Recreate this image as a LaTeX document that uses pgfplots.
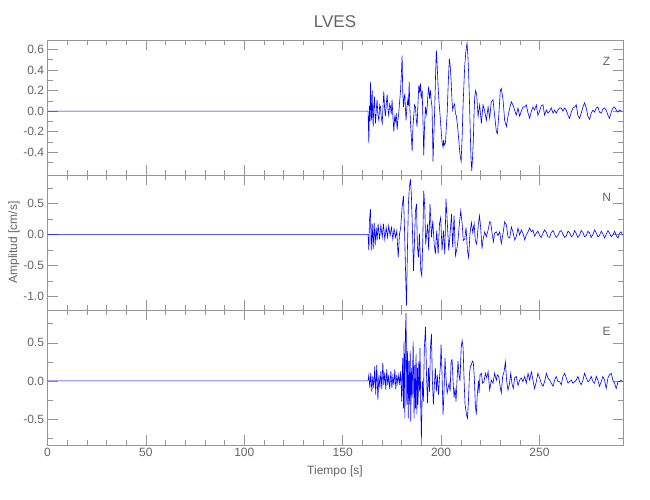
\documentclass[border=0pt]{standalone}
\usepackage{fontspec}
\setmainfont{Liberation Sans}
\usepackage{pgfplots}
\pgfplotsset{compat=1.18}
\definecolor{axgray}{RGB}{150,150,150}
\definecolor{txtgray}{RGB}{100,100,100}
\definecolor{trace}{RGB}{0,0,255}
\pgfplotsset{seis/.style={
  scale only axis, width=575.2pt, height=135pt, anchor=south west,
  xmin=0, xmax=292.3,
  axis line style={axgray}, tick style={axgray, line width=0.5pt},
  major tick length=10pt, minor tick length=5pt,
  xtick={0,50,...,250}, minor x tick num=4,
  tick label style={font=\fontsize{12}{14}\selectfont, text=txtgray},
  /pgf/number format/assume math mode=true,
  yticklabel style={/pgf/number format/.cd, fixed, fixed zerofill, precision=1},
  no markers,
}}
\begin{document}
\begin{tikzpicture}
\useasboundingbox (0,0) rectangle (650pt,500pt);
% Z
\begin{axis}[seis, at={(47.5pt,325pt)}, ymin=-0.62, ymax=0.69,
  ytick={-0.4,-0.2,0,0.2,0.4,0.6}, minor ytick={-0.5,-0.3,-0.1,0.1,0.3,0.5},
  xticklabels={}]
\addplot[trace, line width=0.6pt] coordinates {(0,0) (162.9,0)
(163.3,-0.31) (163.6,0.05) (163.9,-0.10) (164.1,0.28) (164.4,0.02) (164.6,-0.09) (164.8,0.08) (165.0,0.20) (165.2,-0.02) (165.5,-0.15) (165.8,0.05) (166.2,0.14) (166.4,-0.03) (166.7,-0.12) (167.1,0.02) (167.5,0.11) (167.9,-0.04) (168.4,-0.09) (168.8,0.06) (169.2,0.04) (169.6,-0.06) (170.1,-0.12) (170.5,0.05) (170.9,0.19) (171.3,0.03) (171.7,-0.05) (172.2,0.08) (172.6,0.16) (173.0,0.02) (173.4,-0.04) (173.9,0.07) (174.3,0.04) (174.7,-0.03) (175.1,0.11) (175.5,-0.05) (176.0,-0.20) (176.4,-0.06) (176.8,-0.10) (177.2,-0.02) (177.7,-0.18) (178.1,-0.08) (178.5,-0.02) (178.9,0.08) (179.4,0.20) (179.8,0.35) (180.2,0.54) (180.5,0.20) (180.9,0.04) (181.2,0.12) (181.6,0.17) (181.9,0.02) (182.2,-0.09) (182.6,0.03) (183.1,0.11) (183.4,0.05) (183.8,0.28) (184.1,0.05) (184.4,-0.09) (184.9,-0.25) (185.3,-0.39) (185.7,-0.15) (186.1,-0.05) (186.5,0.06) (187.0,0.04) (187.4,-0.08) (187.8,-0.15) (188.2,0.05) (188.7,0.25) (189.1,0.18) (189.5,0.27) (189.9,0.12) (190.4,0.20) (190.8,-0.10) (191.2,-0.43) (191.6,-0.15) (192.1,0.04) (192.5,-0.03) (192.9,0.03) (193.3,0.15) (193.7,0.24) (194.2,0.12) (194.6,0.20) (195.0,0.10) (195.4,0.04) (195.7,-0.25) (195.9,-0.49) (196.4,-0.20) (196.8,0.04) (197.2,0.35) (197.6,0.59) (198.0,0.45) (198.5,0.24) (198.9,0.10) (199.3,0.01) (200.0,-0.18) (200.5,-0.30) (201.0,-0.35) (201.3,-0.28) (201.6,-0.33) (202.2,-0.31) (202.6,-0.18) (203.1,-0.02) (203.6,0.25) (204.2,0.51) (204.6,0.45) (205.1,0.30) (205.5,0.12) (205.9,0.01) (206.4,0.05) (206.9,0.07) (207.3,-0.02) (207.8,-0.05) (208.4,-0.15) (209.0,-0.28) (209.6,-0.42) (210.2,-0.49) (210.7,-0.25) (211.2,0.07) (212.0,0.43) (212.6,0.58) (213.2,0.66) (213.6,0.55) (214.0,0.37) (214.5,0.05) (214.9,-0.25) (215.2,-0.45) (215.6,-0.58) (216.0,-0.45) (216.4,-0.28) (216.8,0.0) (217.1,0.14) (217.6,0.20) (218.1,0.16) (218.8,-0.05) (219.6,0.06) (220.5,-0.12) (221.3,0.06) (222.2,0.0) (223.0,-0.09) (223.9,0.04) (224.7,-0.07) (225.5,0.09) (226.4,0.11) (227.2,-0.04) (228.1,-0.20) (228.6,-0.22) (229.3,-0.05) (230.1,0.20) (230.6,0.22) (231.5,0.11) (232.3,-0.09) (233.2,-0.15) (234.0,-0.05) (234.9,0.03) (235.7,0.09) (236.5,0.06) (237.4,0.01) (238.2,-0.04) (239.1,0.03) (239.9,-0.05) (240.8,0.0) (241.6,0.04) (242.5,0.04) (243.3,0.06) (244.2,-0.02) (245.0,-0.07) (245.9,0.0) (246.7,0.04) (247.5,0.01) (248.4,0.06) (249.2,-0.04) (250.1,0.0) (250.9,0.05) (251.8,0.06) (252.6,-0.04) (253.5,0.01) (254.3,-0.02) (255.2,0.0) (256.0,0.03) (256.9,-0.02) (257.7,0.01) (258.5,-0.02) (259.4,0.01) (260.2,0.03) (261.1,0.03) (261.9,0.0) (262.8,0.03) (263.6,0.01) (264.5,-0.04) (265.3,-0.07) (266.2,-0.01) (267.0,0.03) (267.9,0.04) (268.7,0.06) (269.5,-0.04) (270.4,-0.07) (271.2,-0.02) (272.1,0.04) (272.9,0.08) (273.8,0.03) (274.6,-0.05) (275.5,-0.08) (276.3,-0.02) (277.2,0.01) (278.0,-0.01) (278.9,0.03) (279.7,0.04) (280.5,-0.01) (281.4,-0.02) (282.2,0.02) (283.1,0.03) (283.9,0.01) (284.8,-0.04) (285.6,-0.07) (286.5,-0.01) (287.3,0.03) (288.2,0.04) (289.0,0.01) (289.9,-0.01) (290.7,0.01) (291.5,0.0) (292.3,0.0)};
\node[text=txtgray, font=\fontsize{12}{14}\selectfont] at (rel axis cs:0.972,0.844) {Z};
\end{axis}
% N
\begin{axis}[seis, at={(47.5pt,190pt)}, ymin=-1.22, ymax=0.956,
  ytick={-1,-0.5,0,0.5}, minor ytick={-0.75,-0.25,0.25,0.75},
  xticklabels={}]
\addplot[trace, line width=0.6pt] coordinates {(0,0) (162.9,0)
(163.3,-0.26) (163.6,0.22) (164.1,0.41) (164.5,-0.26) (165.0,0.17) (165.5,-0.24) (166.0,0.19) (166.5,-0.18) (167.0,0.11) (167.5,-0.10) (168.0,0.17) (168.7,-0.08) (169.4,0.14) (170.1,-0.05) (170.7,0.17) (171.4,-0.08) (172.1,0.11) (172.8,-0.05) (173.4,0.14) (174.1,-0.02) (174.8,0.11) (175.5,-0.08) (176.1,0.09) (176.8,-0.05) (177.5,0.06) (178.2,-0.37) (178.9,0.01) (179.5,0.11) (180.2,0.44) (180.9,0.62) (181.4,0.11) (181.9,-0.53) (182.4,-1.15) (182.9,-0.26) (183.4,0.49) (183.9,0.76) (184.4,0.89) (184.9,0.65) (185.5,0.01) (186.0,-0.59) (186.5,-0.10) (187.0,0.38) (187.5,0.49) (188.0,-0.21) (188.5,-0.37) (189.0,0.01) (189.7,-0.59) (190.2,-0.67) (190.7,-0.10) (191.2,0.70) (191.7,0.44) (192.2,-0.16) (192.7,0.01) (193.2,0.17) (193.7,-0.26) (194.4,0.49) (195.1,-0.05) (195.8,0.22) (196.5,-0.16) (197.1,-0.32) (197.8,0.06) (198.5,-0.32) (199.2,0.17) (199.8,0.27) (200.5,-0.26) (201.2,0.06) (201.9,-0.32) (202.5,0.57) (203.2,0.17) (203.9,-0.26) (204.6,0.01) (205.3,0.33) (205.9,-0.21) (206.6,0.30) (207.3,-0.34) (208.0,-0.24) (208.6,-0.10) (209.3,0.17) (210.0,0.38) (210.7,0.17) (211.3,-0.10) (212.0,-0.08) (212.7,0.11) (213.4,-0.26) (214.0,-0.37) (214.7,0.01) (215.4,0.19) (216.1,0.03) (216.8,0.17) (217.4,-0.10) (218.1,-0.16) (218.8,0.11) (219.5,0.30) (220.1,0.12) (220.8,-0.23) (221.3,-0.09) (222.2,0.04) (223.0,-0.04) (223.9,0.07) (224.7,0.20) (225.2,0.20) (225.9,0.02) (226.6,-0.12) (227.2,0.02) (228.1,0.04) (228.9,-0.02) (229.8,0.04) (230.6,-0.15) (231.5,0.02) (232.3,0.20) (233.2,0.15) (234.0,-0.04) (234.9,-0.06) (235.7,0.12) (236.5,0.04) (237.4,-0.09) (238.2,-0.04) (239.1,0.10) (239.9,-0.01) (240.8,0.07) (241.6,0.02) (242.5,-0.09) (243.3,-0.01) (244.2,0.04) (245.0,0.10) (245.9,0.04) (246.7,0.07) (247.5,-0.03) (248.4,0.02) (249.2,0.05) (250.1,-0.02) (250.9,-0.05) (251.8,0.02) (252.6,0.07) (253.5,0.03) (254.3,-0.04) (255.2,-0.05) (256.0,0.03) (256.9,0.06) (257.7,0.0) (258.5,-0.05) (259.4,-0.02) (260.2,0.04) (261.1,0.06) (262.0,0.0) (262.8,-0.05) (263.6,-0.03) (264.5,0.05) (265.3,0.03) (266.2,-0.04) (267.0,-0.02) (267.9,0.06) (268.7,0.01) (269.5,-0.05) (270.4,-0.01) (271.2,0.06) (272.1,0.03) (272.9,-0.04) (273.8,-0.02) (274.6,0.05) (275.5,0.02) (276.3,-0.05) (277.2,0.0) (278.0,0.07) (278.9,0.02) (279.7,-0.04) (280.5,-0.02) (281.4,0.05) (282.2,0.01) (283.1,-0.06) (283.9,0.0) (284.8,0.06) (285.6,0.02) (286.5,-0.04) (287.3,-0.01) (288.2,0.05) (289.0,-0.02) (289.9,-0.06) (290.7,0.02) (291.5,0.04) (292.3,-0.02)};
\node[text=txtgray, font=\fontsize{12}{14}\selectfont] at (rel axis cs:0.972,0.837) {N};
\end{axis}
% E
\begin{axis}[seis, at={(47.5pt,55pt)}, ymin=-0.84, ymax=0.93,
  ytick={-0.5,0,0.5}, minor ytick={-0.75,-0.25,0.25,0.75},
  xticklabel style={/pgf/number format/.cd, fixed, precision=0}]
\addplot[trace, line width=0.6pt] coordinates {(0,0) (162.9,0)
(163.3,0.08) (163.8,-0.09) (164.3,0.11) (164.8,-0.14) (165.3,0.06) (165.8,-0.09) (166.3,0.19) (166.8,-0.18) (167.3,0.21) (167.9,-0.25) (168.4,0.08) (168.9,-0.09) (169.4,0.13) (169.9,-0.11) (170.4,0.24) (170.9,-0.05) (171.4,0.11) (171.9,-0.11) (172.4,0.15) (172.9,-0.05) (173.4,0.08) (173.9,-0.11) (174.5,0.13) (175.0,-0.09) (175.5,0.06) (176.0,-0.05) (176.5,0.15) (177.0,-0.11) (177.5,0.08) (178.0,-0.03) (178.5,0.08) (179.0,-0.05) (179.5,0.13) (180.0,-0.27) (180.5,0.30) (180.9,-0.36) (181.2,0.52) (181.6,-0.49) (181.9,0.65) (182.2,0.89) (182.6,-0.31) (182.9,0.39) (183.3,-0.49) (183.6,0.26) (183.9,-0.31) (184.3,0.39) (184.6,-0.53) (184.9,0.17) (185.3,-0.22) (185.8,0.52) (186.3,-0.49) (186.6,0.21) (187.0,-0.36) (187.3,0.35) (187.7,-0.44) (188.0,0.17) (188.3,-0.31) (188.7,0.26) (189.0,-0.14) (189.3,0.43) (189.7,-0.36) (190.0,-0.77) (190.5,0.0) (191.0,-0.27) (191.5,0.43) (192.1,0.71) (192.6,0.08) (193.1,-0.29) (193.6,0.17) (194.1,-0.14) (194.6,0.43) (195.1,0.62) (195.6,0.0) (196.1,-0.31) (196.6,-0.05) (197.1,0.17) (197.6,-0.14) (198.1,0.08) (198.7,-0.18) (199.2,0.04) (199.7,0.21) (200.0,0.48) (200.5,0.08) (201.0,-0.44) (201.5,-0.14) (202.0,0.30) (202.5,0.04) (203.1,-0.16) (203.6,-0.09) (204.1,-0.03) (204.6,-0.14) (205.1,0.26) (205.6,0.28) (206.1,0.0) (206.6,-0.22) (207.1,-0.09) (207.6,-0.27) (208.1,0.0) (208.6,0.26) (209.1,0.08) (209.6,0.0) (210.2,0.43) (210.7,0.53) (211.2,0.43) (211.7,0.0) (212.2,-0.31) (212.9,-0.44) (213.4,-0.49) (213.9,-0.27) (214.4,0.08) (214.9,0.19) (215.4,0.21) (215.9,0.26) (216.4,0.24) (216.9,0.04) (217.4,-0.31) (217.9,-0.44) (218.4,-0.18) (219.0,0.0) (219.3,-0.16) (219.8,0.08) (220.5,0.10) (221.1,-0.03) (221.8,-0.01) (222.5,0.10) (223.2,0.04) (223.9,0.12) (224.7,-0.12) (225.5,0.01) (226.4,-0.03) (227.2,0.10) (228.1,0.01) (228.6,0.08) (229.3,0.06) (230.0,-0.07) (230.6,-0.16) (231.3,0.06) (232.0,0.12) (232.7,0.25) (233.3,0.01) (234.0,-0.12) (234.7,-0.05) (235.4,0.10) (236.0,-0.03) (236.7,-0.10) (237.4,0.04) (238.2,0.06) (239.1,-0.06) (239.9,0.01) (240.8,0.04) (241.6,-0.01) (242.5,0.06) (243.3,-0.03) (244.2,0.10) (245.0,0.01) (245.9,0.12) (246.7,0.01) (247.5,-0.10) (248.4,-0.01) (249.2,0.10) (250.1,0.04) (250.9,-0.03) (251.8,-0.07) (252.6,-0.01) (253.5,0.10) (254.3,0.04) (255.2,0.01) (256.0,-0.03) (256.9,-0.07) (257.7,0.01) (258.5,0.06) (259.4,-0.01) (260.2,-0.01) (261.1,-0.05) (261.9,0.06) (262.8,0.10) (263.6,0.04) (264.5,-0.03) (265.3,-0.01) (266.2,0.01) (267.0,-0.03) (267.9,-0.01) (268.7,0.01) (269.5,0.06) (270.4,-0.01) (271.2,-0.05) (272.1,0.01) (272.9,0.10) (273.8,0.04) (274.6,-0.01) (275.5,0.01) (276.3,0.06) (277.2,-0.01) (278.0,-0.03) (278.9,0.06) (279.7,0.01) (280.5,-0.07) (281.4,-0.01) (282.2,0.06) (283.1,0.01) (283.9,-0.10) (284.8,0.04) (285.6,0.08) (286.5,0.10) (287.3,0.01) (288.2,-0.03) (289.0,-0.10) (289.9,-0.01) (290.7,-0.01) (291.5,0.01) (292.3,-0.01)};
\node[text=txtgray, font=\fontsize{12}{14}\selectfont] at (rel axis cs:0.972,0.844) {E};
\end{axis}
\node[text=txtgray, font=\fontsize{17}{20}\selectfont] at (335pt,478pt) {LVES};
\node[text=txtgray, font=\fontsize{12}{14}\selectfont] at (335pt,29pt) {Tiempo [s]};
\node[text=txtgray, font=\fontsize{12}{14}\selectfont, rotate=90] at (14pt,257.5pt) {Amplitud [cm/s]};
\end{tikzpicture}
\end{document}
